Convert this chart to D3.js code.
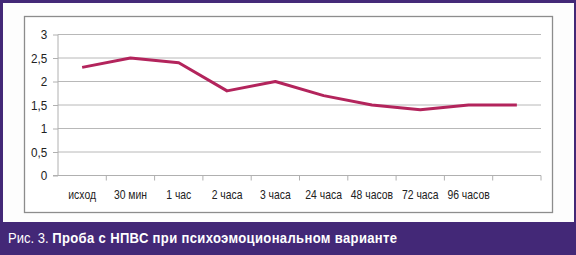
<!DOCTYPE html>
<html>
<head>
<meta charset="utf-8">
<script src="https://cdn.jsdelivr.net/npm/d3@7"></script>
<style>
	body { margin: 0; background: #fff; }
	svg { display: block; }
</style>
</head>
<body>
<div id="chart"></div>
<script>
// data
const categories = ["исход", "30 мин", "1 час", "2 часа", "3 часа", "24 часа", "48 часов", "72 часа", "96 часов", ""];
const values = [2.3, 2.5, 2.4, 1.8, 2.0, 1.7, 1.5, 1.4, 1.5, 1.5];
const yTicks = [0, 0.5, 1, 1.5, 2, 2.5, 3];
const captionPrefix = "Рис. 3. ";
const captionTitle = "Проба с НПВС при психоэмоциональном варианте";

const W = 576, H = 255;
const purple = "#432877";
const font = "'Liberation Sans', Arial, sans-serif";

const svg = d3.select("#chart").append("svg")
	.attr("width", W)
	.attr("height", H);

// outer frame
svg.append("rect").attr("x", 0).attr("y", 0).attr("width", W).attr("height", H).attr("fill", purple);
svg.append("rect").attr("x", 3).attr("y", 3).attr("width", 571).attr("height", 219).attr("fill", "#fdfdfd");

// chart box
svg.append("rect")
	.attr("x", 24.5).attr("y", 16.5).attr("width", 528).attr("height", 196)
	.attr("fill", "#fff")
	.attr("stroke", "#8c8c8c")
	.attr("stroke-width", 1.3);

const margin = { left: 58, right: 35 };
const x = d3.scaleBand()
	.domain(categories.map((c, i) => i))
	.range([margin.left, W - margin.right]);
const y = d3.scaleLinear()
	.domain([0, 3])
	.range([175.5, 34.5]);

// grid
svg.append("g")
	.selectAll("line")
	.data(yTicks.filter(t => t > 0))
	.join("line")
	.attr("x1", margin.left).attr("x2", W - margin.right)
	.attr("y1", d => y(d)).attr("y2", d => y(d))
	.attr("stroke", "#b8b8b8");

// y axis
const yAxis = svg.append("g")
	.attr("transform", `translate(${margin.left},0)`)
	.call(d3.axisLeft(y).tickValues(yTicks).tickSize(5).tickFormat(d => String(d).replace(".", ",")));
yAxis.select(".domain").attr("stroke", "#b0b0b0").attr("d", `M0,${y(3)}V${y(0)}`);
yAxis.selectAll(".tick line").attr("stroke", "#b0b0b0");
yAxis.selectAll("text")
	.attr("x", -12)
	.attr("font-family", font)
	.attr("font-size", 13)
	.attr("transform", "scale(0.9,1)")
	.attr("fill", "#222");

// x axis
const xAxisG = svg.append("g").attr("transform", `translate(0,${y(0)})`);
xAxisG.append("line")
	.attr("x1", margin.left - 5).attr("x2", W - margin.right)
	.attr("stroke", "#b0b0b0");
xAxisG.selectAll(".tk")
	.data(categories.map((c, i) => i))
	.join("line")
	.attr("class", "tk")
	.attr("x1", d => x(d) + x.bandwidth()).attr("x2", d => x(d) + x.bandwidth())
	.attr("y1", 0).attr("y2", 5)
	.attr("stroke", "#b0b0b0");
xAxisG.selectAll(".lbl")
	.data(categories)
	.join("text")
	.attr("class", "lbl")
	.attr("transform", (d, i) => `translate(${x(i) + x.bandwidth() / 2},23) scale(0.8,1)`)
	.attr("text-anchor", "middle")
	.attr("font-family", font)
	.attr("font-size", 13)
	.attr("fill", "#222")
	.text(d => d);

// line
svg.append("path")
	.datum(values)
	.attr("d", d3.line()
		.x((d, i) => x(i) + x.bandwidth() / 2)
		.y(d => y(d)))
	.attr("fill", "none")
	.attr("stroke", "#b3245c")
	.attr("stroke-width", 3)
	.attr("stroke-linejoin", "round");

// caption
const cap = svg.append("text")
	.attr("transform", "translate(8,243) scale(0.87,1)")
	.attr("font-family", font)
	.attr("font-size", 15)
	.attr("fill", "#fff");
cap.append("tspan").text(captionPrefix);
cap.append("tspan").attr("font-weight", "bold").attr("letter-spacing", 0.4).text(captionTitle);
</script>
</body>
</html>
